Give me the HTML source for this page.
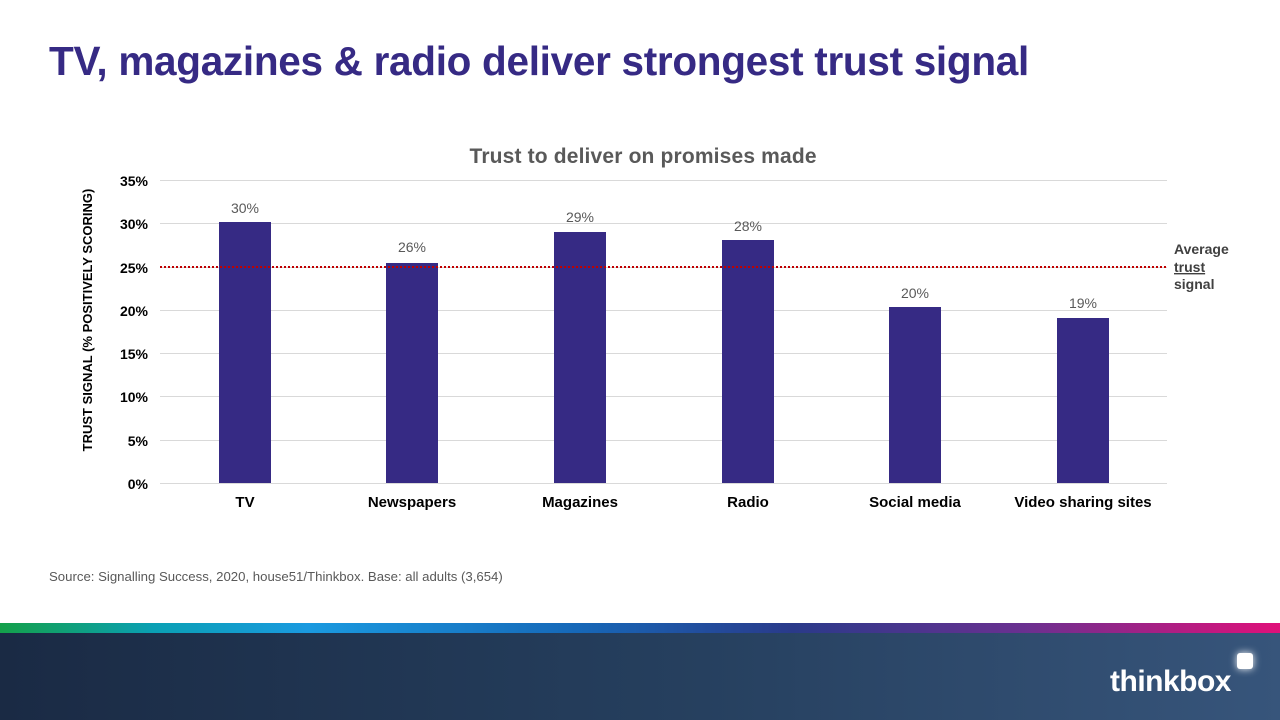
<!DOCTYPE html>
<html><head><meta charset="utf-8"><style>
body{margin:0;width:1280px;height:720px;position:relative;background:#fff;font-family:"Liberation Sans",sans-serif;overflow:hidden}
.t{position:absolute;left:49px;top:38px;font-size:40.5px;font-weight:bold;color:#362a84;letter-spacing:-0.3px}
.src{position:absolute;left:49px;top:569px;font-size:13.2px;color:#595959}
.stripe{position:absolute;left:0;top:623px;width:1280px;height:10px;background:linear-gradient(90deg,#14a04a 0%,#0aa0b4 12%,#1a9ae0 24%,#1668b8 45%,#2a3a8a 62%,#6a3090 80%,#e0107a 100%)}
.band{position:absolute;left:0;top:633px;width:1280px;height:87px;background:linear-gradient(90deg,#1a2a44 0%,#26405f 55%,#37557b 100%)}
.logo{position:absolute;left:1110px;top:665px;font-size:30px;color:#fff;font-weight:bold;letter-spacing:-0.5px}
.sq{position:absolute;left:1237px;top:653px;width:16px;height:16px;background:#fff;border-radius:3px;box-shadow:0 0 8px #fff}
</style></head><body>
<div class="t">TV, magazines &amp; radio deliver strongest trust signal</div>
<svg width="1280" height="720" style="position:absolute;left:0;top:0" font-family="Liberation Sans, sans-serif">
<text x="643" y="163" text-anchor="middle" font-size="21" font-weight="bold" fill="#595959" textLength="347">Trust to deliver on promises made</text>
<g stroke="#d9d9d9" stroke-width="1">
<line x1="160" x2="1167" y1="180.5" y2="180.5"/><line x1="160" x2="1167" y1="223.5" y2="223.5"/><line x1="160" x2="1167" y1="267.5" y2="267.5"/><line x1="160" x2="1167" y1="310.5" y2="310.5"/><line x1="160" x2="1167" y1="353.5" y2="353.5"/><line x1="160" x2="1167" y1="396.5" y2="396.5"/><line x1="160" x2="1167" y1="440.5" y2="440.5"/><line x1="160" x2="1167" y1="483.5" y2="483.5"/>
</g>
<g font-size="14" font-weight="bold" fill="#000" text-anchor="end">
<text x="148" y="186">35%</text><text x="148" y="229">30%</text><text x="148" y="273">25%</text><text x="148" y="316">20%</text><text x="148" y="359">15%</text><text x="148" y="402">10%</text><text x="148" y="446">5%</text><text x="148" y="489">0%</text>
</g>
<text transform="translate(92,320) rotate(-90)" text-anchor="middle" font-size="13" font-weight="bold">TRUST SIGNAL (% POSITIVELY SCORING)</text>
<g fill="#362a84">
<rect x="219" y="222" width="52" height="261"/><rect x="386" y="263" width="52" height="220"/><rect x="554" y="232" width="52" height="251"/><rect x="722" y="240" width="52" height="243"/><rect x="889" y="307" width="52" height="176"/><rect x="1057" y="318" width="52" height="165"/>
</g>
<line x1="160" x2="1167" y1="267" y2="267" stroke="#c00000" stroke-width="2" stroke-dasharray="2,2"/>
<g font-size="14" fill="#595959" text-anchor="middle">
<text x="245" y="213">30%</text><text x="412" y="252">26%</text><text x="580" y="222">29%</text><text x="748" y="231">28%</text><text x="915" y="298">20%</text><text x="1083" y="308">19%</text>
</g>
<g font-size="15" font-weight="bold" fill="#000" text-anchor="middle">
<text x="245" y="507">TV</text><text x="412" y="507">Newspapers</text><text x="580" y="507">Magazines</text><text x="748" y="507">Radio</text><text x="915" y="507">Social media</text><text x="1083" y="507">Video sharing sites</text>
</g>
<g font-size="14" font-weight="bold" fill="#404040">
<text x="1174" y="254">Average</text><text x="1174" y="272" text-decoration="underline">trust</text><text x="1174" y="289">signal</text>
</g>
</svg>
<div class="src">Source: Signalling Success, 2020, house51/Thinkbox. Base: all adults (3,654)</div>
<div class="stripe"></div><div class="band"></div>
<div class="logo">thinkbox</div><div class="sq"></div>
</body></html>
